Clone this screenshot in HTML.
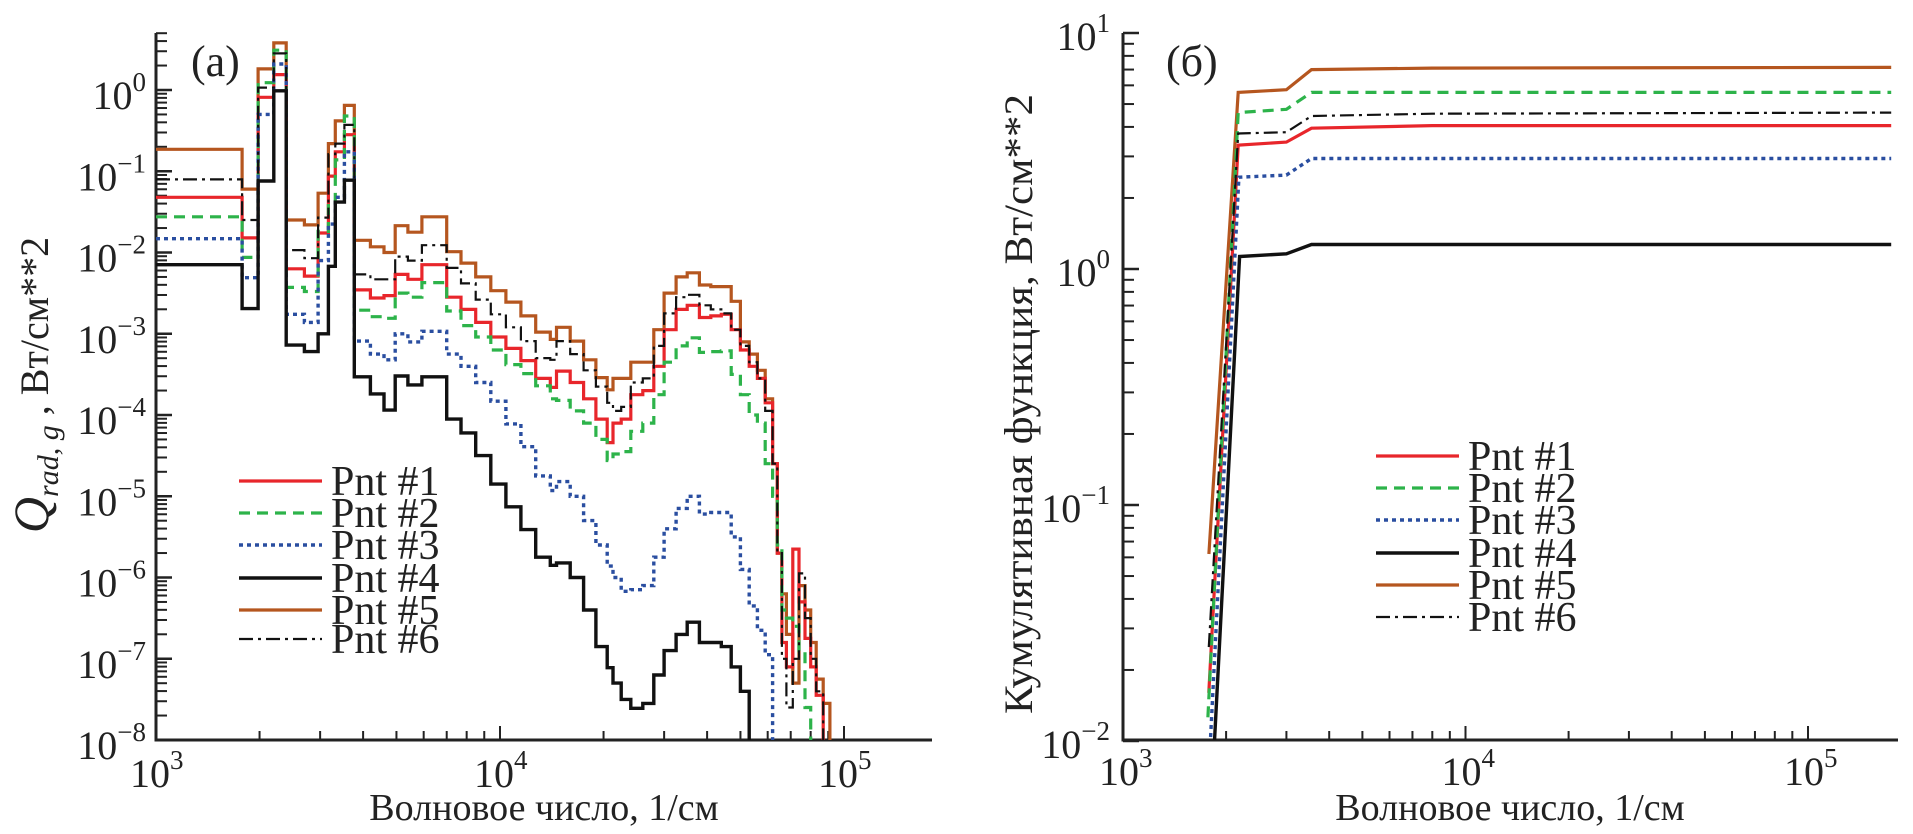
<!DOCTYPE html>
<html><head><meta charset="utf-8">
<style>
html,body{margin:0;padding:0;background:#fff;}
svg{display:block;font-family:"Liberation Serif","DejaVu Serif",serif;}
</style></head>
<body>
<svg id="fig" width="1913" height="834" viewBox="0 0 1913 834" xmlns="http://www.w3.org/2000/svg">
<defs>
<clipPath id="clipA"><rect x="156" y="0" width="776" height="740"/></clipPath>
<clipPath id="clipB"><rect x="1123" y="0" width="775" height="740"/></clipPath>
</defs>
<g id="panelA"></g>
<g id="panelB"></g>
</svg>
<script>
// ---------- Panel (a) data: bin edges (1/cm) and log10 values ----------
const binEdges = [1000,1780,1980,2200,2390,2700,2960,3170,3320,3530,3770,4200,4600,4960,5400,5930,7000,7700,8500,9400,10400,11500,12700,14000,14600,16000,17500,19000,20500,21300,22500,24000,26000,28000,30000,32500,35000,38000,41000,44000,47000,50000,53000,56000,59000,62000,64000,66000,68000,71000,74000,77000,80000,83000,87000,91000,95000];
const pnt1Log = [-1.32,-1.82,-0.09,0.19,-2.2,-2.29,-1.76,-1.06,-0.76,-0.55,-2.46,-2.56,
 -2.53,-2.27,-2.33,-2.15,-2.55,-2.7,-2.86,-3.04,-3.18,-3.33,-3.55,-3.66,-3.46,-3.6,-3.8,-4.05,-4.34,-4.1,-4.05,-3.75,
 -3.7,-3.4,-2.95,-2.7,-2.65,-2.8,-2.78,-2.76,-2.95,-3.2,-3.4,-3.55,-3.85,-4.6,-5.7,-6.8,-7.1,-5.65,-6.3,-6.75,-7.1,-7.45,-8.1,-9];
const pnt2Log = [-1.56,-2.06,0.09,0.49,-2.43,-2.48,-1.74,-1.38,-0.86,-0.32,-2.71,-2.79,
 -2.81,-2.5,-2.55,-2.37,-2.72,-2.9,-3.04,-3.2,-3.38,-3.49,-3.64,-3.8,-3.82,-3.95,-4.1,-4.3,-4.56,-4.48,-4.45,-4.2,
 -4.1,-3.75,-3.35,-3.15,-3.05,-3.23,-3.22,-3.21,-3.5,-3.75,-4.0,-4.1,-4.6,-5.0,-5.6,-6.4,-6.5,-6.6,-6.9,-7.6,-8.2,-9,-9,-9];
const pnt3Log = [-1.83,-2.31,-0.30,0.32,-2.76,-2.86,-2.1,-1.65,-1.32,-0.76,-3.09,-3.25,
 -3.32,-3.0,-3.1,-2.97,-3.25,-3.4,-3.6,-3.83,-4.11,-4.39,-4.75,-4.93,-4.82,-5.0,-5.3,-5.6,-5.86,-6.0,-6.17,-6.15,
 -6.1,-5.75,-5.4,-5.15,-5.0,-5.22,-5.2,-5.2,-5.5,-5.9,-6.35,-6.65,-6.95,-9,-9,-9,-9,-9,-9,-9,-9,-9,-9,-9];
const pnt4Log = [-2.15,-2.69,-1.12,-0.01,-3.14,-3.22,-3.0,-2.17,-1.38,-1.11,-3.53,-3.74,
 -3.94,-3.52,-3.63,-3.53,-4.05,-4.22,-4.5,-4.85,-5.13,-5.41,-5.75,-5.85,-5.82,-6.0,-6.4,-6.85,-7.11,-7.3,-7.5,-7.61,
 -7.55,-7.2,-6.9,-6.7,-6.55,-6.8,-6.8,-6.85,-7.1,-7.4,-9,-9,-9,-9,-9,-9,-9,-9,-9,-9,-9,-9,-9,-9];
const pnt5Log = [-0.73,-1.22,0.26,0.58,-1.6,-1.66,-1.27,-0.66,-0.38,-0.19,-1.85,-1.93,
 -2.0,-1.67,-1.75,-1.56,-1.99,-2.13,-2.30,-2.47,-2.61,-2.78,-2.98,-3.07,-2.92,-3.09,-3.32,-3.54,-3.69,-3.55,-3.55,-3.35,
 -3.35,-2.95,-2.5,-2.3,-2.25,-2.4,-2.42,-2.42,-2.6,-3.1,-3.25,-3.45,-3.8,-4.6,-5.7,-6.2,-6.7,-7.3,-6.1,-6.4,-6.8,-7.25,-7.55,-8.2];
const pnt6Log = [-1.1,-1.6,0.03,0.45,-1.97,-2.07,-1.57,-0.79,-0.66,-0.43,-2.27,-2.33,
 -2.33,-2.05,-2.1,-1.91,-2.19,-2.38,-2.58,-2.76,-2.92,-3.09,-3.3,-3.32,-3.09,-3.25,-3.45,-3.65,-3.85,-3.95,-3.9,-3.6,
 -3.55,-3.15,-2.75,-2.55,-2.52,-2.65,-2.7,-2.75,-2.95,-3.15,-3.35,-3.55,-3.95,-4.6,-5.7,-7.0,-7.6,-7.0,-5.95,-6.5,-7.0,-7.4,-8.2,-9];
const yTicksA = [0,-1,-2,-3,-4,-5,-6,-7,-8];
const xTicksMajor = [3,4,5];

// ---------- Panel (b) data: cumulative function ----------
const cumX1 = [1780,2170,3000,3550,8000,175000];
const cum1 = [0.016,3.35,3.45,3.95,4.05,4.05];
const cumX2 = [1770,2170,3000,3550,8000,175000];
const cum2 = [0.0126,4.6,4.75,5.6,5.6,5.6];
const cumX3 = [1800,2180,3000,3550,8000,175000];
const cum3 = [0.01,2.45,2.5,2.94,2.94,2.94];
const cumX4 = [1850,2190,3000,3550,8000,175000];
const cum4 = [0.01,1.13,1.16,1.27,1.27,1.27];
const cumX5 = [1782,2170,3000,3550,8000,175000];
const cum5 = [0.062,5.6,5.75,7.0,7.1,7.15];
const cumX6 = [1780,2170,3000,3550,8000,175000];
const cum6 = [0.025,3.75,3.8,4.45,4.55,4.6];
const yTicksB = [1,0,-1,-2];

const NS = "http://www.w3.org/2000/svg";
const svg = document.getElementById('fig');
const gA = document.getElementById('panelA');
const gB = document.getElementById('panelB');

function mk(tag, attrs, parent){
  const e = document.createElementNS(NS, tag);
  for (const k in attrs) e.setAttribute(k, attrs[k]);
  parent.appendChild(e);
  return e;
}

// axes functions
const xA = v => 156 + 344*(Math.log10(v)-3);
const yA = lg => 90 - 81.25*lg;
const xB = v => 1123 + 342.5*(Math.log10(v)-3);
const yB = val => 33 + 236*(1 - Math.log10(val));

const AX = "#222";

// ---------- styles ----------
const styles = [
  {name:'pnt-1', color:'#e8262b', w:3.2, dash:''},
  {name:'pnt-2', color:'#2db34a', w:3.2, dash:'11,7'},
  {name:'pnt-3', color:'#2a4ea0', w:3.4, dash:'4,4'},
  {name:'pnt-4', color:'#111', w:3.4, dash:''},
  {name:'pnt-5', color:'#b5561f', w:3.2, dash:''},
  {name:'pnt-6', color:'#111', w:2.2, dash:'14,5,3,5'}
];

// ---------- Panel A axes ----------
function drawAxesA(){
  const ax = mk('g', {}, gA);
  
  
  const l1 = mk('path', {d:'M156 33 V740 H932', fill:'none', stroke:AX, 'stroke-width':3}, ax);
  
  
  // y ticks
  for (let d=-8; d<=0; d++){
    const mt = mk('line', {x1:156,x2:172,y1:yA(d),y2:yA(d),stroke:AX,'stroke-width':2.5}, ax);
    
    
    if (d<0 || true){
      for (let m=2;m<=9;m++){
        const lg = d + Math.log10(m);
        if (yA(lg) < 33) continue;
        const t = mk('line', {x1:156,x2:167,y1:yA(lg),y2:yA(lg),stroke:AX,'stroke-width':2}, ax);
        
        
      }
    }
  }
  yTicksA.forEach(d=>{
    const t = mk('text', {x:146, y:yA(d)+19, 'text-anchor':'end', 'font-size':40, fill:'#222'}, ax);
    
    
    t.innerHTML = '10<tspan dy="-18" font-size="27">' + (d<0?'\u2212'+(-d):d) + '</tspan>';
  });
  // x ticks
  for (let d=3; d<=5; d++){
    for (let m=1;m<=9;m++){
      const v = m*Math.pow(10,d);
      const x = xA(v);
      if (x>932) continue;
      if (m===1 && d===3) continue;
      const t = mk('line', {x1:x,x2:x,y1:740,y2: m===1?726:731, stroke:AX,'stroke-width':2}, ax);
      
      
    }
  }
  xTicksMajor.forEach(d=>{
    const t = mk('text', {x:xA(Math.pow(10,d))-26, y:787, 'font-size':40, fill:'#222'}, ax);
    
    
    t.innerHTML = '10<tspan dy="-18" font-size="27">'+d+'</tspan>';
  });
  const xt = mk('text', {x:544, y:820, 'text-anchor':'middle', 'font-size':38, fill:'#222'}, ax);
  
  
  xt.textContent = 'Волновое число, 1/см';
  const yt = mk('text', {transform:'translate(48,385) rotate(-90)', 'text-anchor':'middle', 'font-size':40, fill:'#222'}, ax);
  
  
  yt.innerHTML = '<tspan font-style="italic" font-size="50">Q</tspan><tspan font-style="italic" font-size="30" dy="10">rad, g</tspan><tspan dy="-10"> , Вт/см**2</tspan>';
  const pl = mk('text', {x:191, y:76, 'font-size':44, fill:'#222'}, ax);
  
  
  pl.textContent = '(a)';
}

function stepPath(edges, vals){
  const cl = v => Math.max(v, -8.4);
  let d = 'M' + xA(edges[0]).toFixed(1) + ' ' + yA(cl(vals[0])).toFixed(1);
  for (let i=0;i<vals.length;i++){
    d += ' H' + xA(edges[i+1]).toFixed(1);
    if (i+1<vals.length) d += ' V' + yA(cl(vals[i+1])).toFixed(1);
  }
  d += ' V' + yA(-8.4).toFixed(1);
  return d;
}

drawAxesA();
const seriesA = [pnt1Log,pnt2Log,pnt3Log,pnt4Log,pnt5Log,pnt6Log];
const sgA = mk('g', {'clip-path':'url(#clipA)'}, gA);


[4,0,1,2,3,5].forEach(i=>{
  const s = styles[i];
  const p = mk('path', {d:stepPath(binEdges, seriesA[i]), fill:'none', stroke:s.color, 'stroke-width':s.w, 'stroke-dasharray':s.dash, 'stroke-linejoin':'miter'}, sgA);
  
  
});

// legend A
const legYA = [481,513,545,578,610,639];
const lgA = mk('g', {}, gA);


styles.forEach((s,i)=>{
  const ln = mk('line', {x1:239,x2:322,y1:legYA[i],y2:legYA[i],stroke:s.color,'stroke-width':s.w,'stroke-dasharray':s.dash}, lgA);
  
  
  const t = mk('text', {x:331, y:legYA[i]+14, 'font-size':42, fill:'#222'}, lgA);
  
  
  t.textContent = 'Pnt #' + (i+1);
});

// ---------- Panel B ----------
function drawAxesB(){
  const ax = mk('g', {}, gB);
  
  
  const l1 = mk('path', {d:'M1123 33 V740 H1898', fill:'none', stroke:AX, 'stroke-width':3}, ax);
  
  
  for (let d=-2; d<=1; d++){
    const y = 33 + 236*(1-d);
    const mt = mk('line', {x1:1123,x2:1139,y1:y,y2:y,stroke:AX,'stroke-width':2.5}, ax);
    
    
    if (d<1){
      for (let m=2;m<=9;m++){
        const yy = yB(m*Math.pow(10,d));
        const t = mk('line', {x1:1123,x2:1134,y1:yy,y2:yy,stroke:AX,'stroke-width':2}, ax);
        
        
      }
    }
  }
  yTicksB.forEach(d=>{
    const y = 33 + 236*(1-d);
    const t = mk('text', {x:1110, y:y+17, 'text-anchor':'end', 'font-size':40, fill:'#222'}, ax);
    
    
    t.innerHTML = '10<tspan dy="-18" font-size="27">' + (d<0?'\u2212'+(-d):d) + '</tspan>';
  });
  for (let d=3; d<=5; d++){
    for (let m=1;m<=9;m++){
      const v = m*Math.pow(10,d);
      const x = xB(v);
      if (x>1898) continue;
      if (m===1 && d===3) continue;
      const t = mk('line', {x1:x,x2:x,y1:740,y2: m===1?726:731, stroke:AX,'stroke-width':2}, ax);
      
      
    }
  }
  xTicksMajor.forEach(d=>{
    const t = mk('text', {x:xB(Math.pow(10,d))-24, y:785, 'font-size':40, fill:'#222'}, ax);
    
    
    t.innerHTML = '10<tspan dy="-18" font-size="27">'+d+'</tspan>';
  });
  const xt = mk('text', {x:1510, y:820, 'text-anchor':'middle', 'font-size':38, fill:'#222'}, ax);
  
  
  xt.textContent = 'Волновое число, 1/см';
  const yt = mk('text', {transform:'translate(1032,404) rotate(-90)', 'text-anchor':'middle', 'font-size':40, fill:'#222', textLength:620, lengthAdjust:'spacingAndGlyphs'}, ax);
  
  
  yt.textContent = 'Кумулятивная функция, Вт/см**2';
  const pl = mk('text', {x:1166, y:76, 'font-size':44, fill:'#222'}, ax);
  
  
  pl.textContent = '(б)';
}
drawAxesB();
const cumXs = [cumX1,cumX2,cumX3,cumX4,cumX5,cumX6];
const cumYs = [cum1,cum2,cum3,cum4,cum5,cum6];
const sgB = mk('g', {'clip-path':'url(#clipB)'}, gB);


[4,0,1,2,3,5].forEach(i=>{
  const s = styles[i];
  const xs = cumXs[i], ys = cumYs[i];
  let d = '';
  if (ys[0] <= 0.0101) d = 'M' + xB(xs[0]).toFixed(1) + ' 745 ';
  xs.forEach((v,k)=>{ d += (d===''?'M':'L') + xB(v).toFixed(1) + ' ' + yB(ys[k]).toFixed(1) + ' '; });
  const p = mk('path', {d:d, fill:'none', stroke:s.color, 'stroke-width':s.w, 'stroke-dasharray':s.dash}, sgB);
  
  
});
const legYB = [456,488,520,553,585,617];
const lgB = mk('g', {}, gB);


styles.forEach((s,i)=>{
  const ln = mk('line', {x1:1376,x2:1459,y1:legYB[i],y2:legYB[i],stroke:s.color,'stroke-width':s.w,'stroke-dasharray':s.dash}, lgB);
  
  
  const t = mk('text', {x:1468, y:legYB[i]+14, 'font-size':42, fill:'#222'}, lgB);
  
  
  t.textContent = 'Pnt #' + (i+1);
});
</script>
</body></html>
